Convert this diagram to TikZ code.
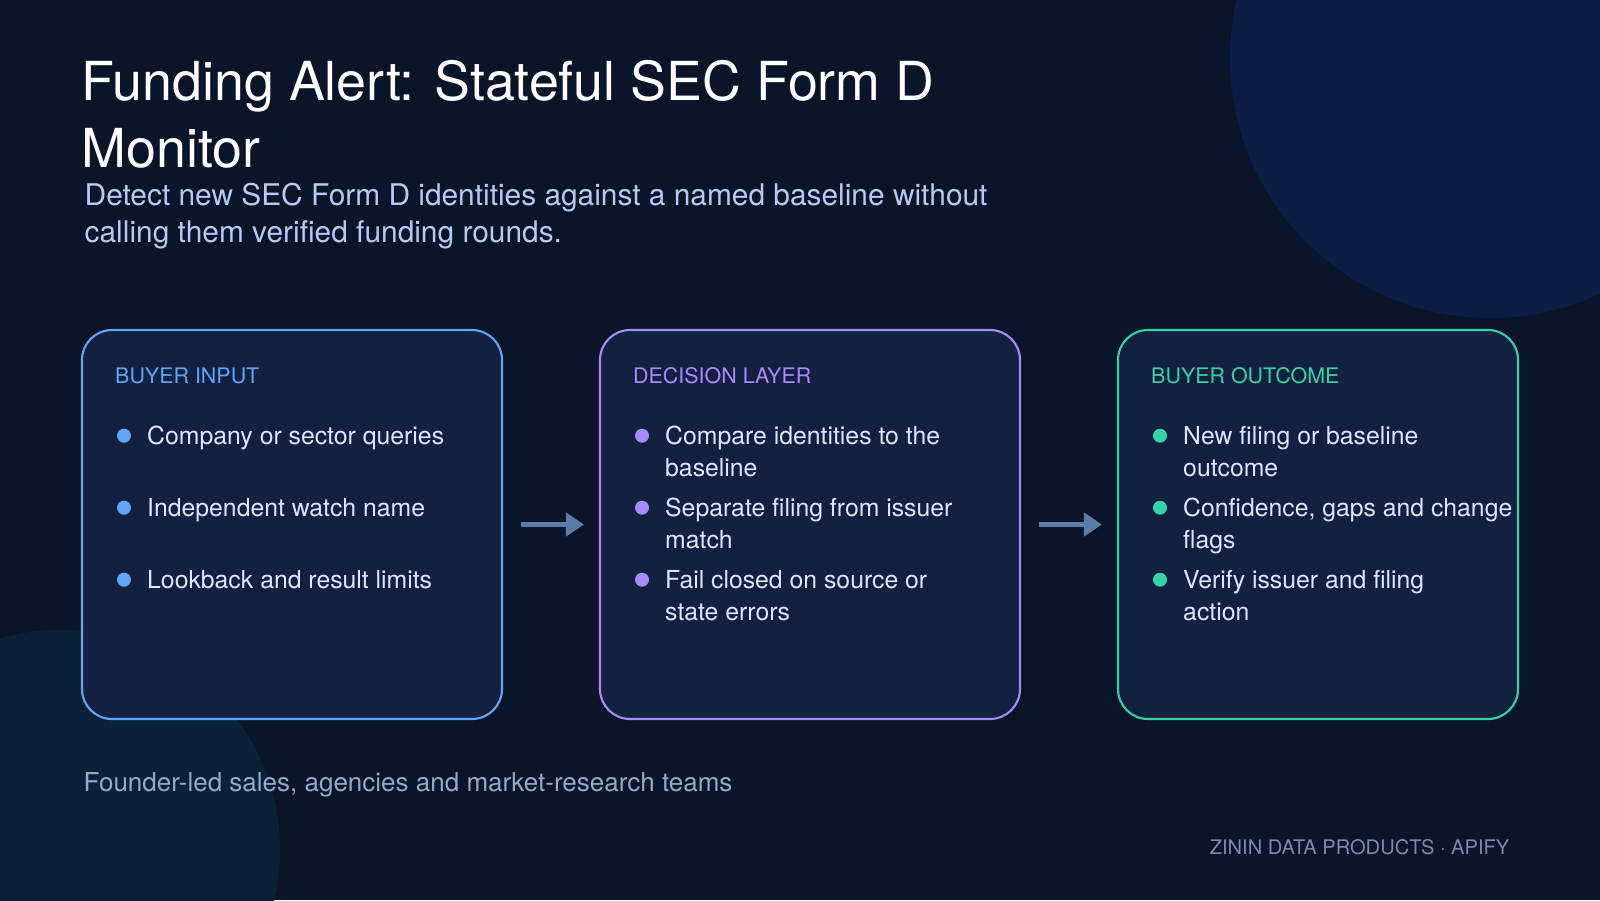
\documentclass[tikz,border=0pt]{standalone}
\usepackage{fontspec}
\setmainfont{TeX Gyre Heros}
\usetikzlibrary{arrows.meta,positioning}
\definecolor{pageBg}{HTML}{0A1529}
\definecolor{orbTop}{HTML}{0C1E45}
\definecolor{orbLow}{HTML}{0B2236}
\definecolor{cardBg}{HTML}{13203F}
\definecolor{clsIn}{HTML}{60A5FA}
\definecolor{clsDec}{HTML}{A78BFA}
\definecolor{clsOut}{HTML}{34D3A6}
\definecolor{itmTxt}{HTML}{DCE6FF}
\definecolor{subTxt}{HTML}{B9C9F0}
\definecolor{noteTxt}{HTML}{94A9CC}
\definecolor{markTxt}{HTML}{7D8BA8}
\definecolor{flowCol}{HTML}{5B7BA8}

\begin{document}
\begin{tikzpicture}[
  ttl/.style={anchor=base west, inner sep=0pt, align=left, text=white,
              font=\fontsize{15.3}{19.06}\selectfont},
  sub/.style={anchor=base west, inner sep=0pt, align=left, text=subTxt,
              font=\fontsize{8.5}{10.8}\selectfont},
  card/.style={draw=#1, fill=cardBg, line width=0.6pt, rounded corners=0.3cm,
               minimum height=3.89cm, inner sep=0pt},
  hdr/.style={anchor=base west, inner sep=0pt, text=#1,
              font=\fontsize{6.1}{7}\selectfont},
  itm/.style={anchor=base west, inner sep=0pt, align=left, text=itmTxt,
              font=\fontsize{7.05}{9.1}\selectfont},
  dot/.style={circle, fill=#1, minimum size=0.14cm, inner sep=0pt},
  flow/.style={draw=flowCol, line width=1.3pt,
               -{Triangle[length=1.8mm,width=2.3mm]},
               shorten <=0.18cm, shorten >=0.15cm},
]

% ============ page and background orbs ============
\useasboundingbox (0,0) rectangle (16,9);
\fill[pageBg] (0,0) rectangle (16,9);
\begin{scope}
  \clip (0,0) rectangle (16,9);
  \fill[orbTop] (14.90,8.42) circle (2.60);
  \fill[orbLow] (0.60,0.50) circle (2.20);
\end{scope}

% ============ heading (base = last line) ============
\node[ttl] (title) at (0.81,7.323) {Funding Alert: Stateful SEC Form D\\Monitor};
\node[sub] (lede) at (0.84,6.57)
  {Detect new SEC Form D identities against a named baseline without\\
   calling them verified funding rounds.};

% ============ the three cards ============
\node[card=clsIn,  minimum width=4.2cm] (in)  at (2.92,3.755) {};
\node[card=clsDec, minimum width=4.2cm] (dec) at (8.10,3.755) {};
\node[card=clsOut, minimum width=4.0cm] (out) at (13.18,3.755) {};

\draw[flow] (in) -- (dec);
\draw[flow] (dec) -- (out);

% (1) buyer input
\begin{scope}[xshift=0.82cm]
  \node[hdr=clsIn] (inH) at (0.325,5.17) {BUYER INPUT};
  \node[dot=clsIn] (inB1) at (0.42,4.643) {};
  \node[itm] (inT1) at (0.645,4.56) {Company or sector queries};
  \node[dot=clsIn] (inB2) at (0.42,3.923) {};
  \node[itm] (inT2) at (0.645,3.84) {Independent watch name};
  \node[dot=clsIn] (inB3) at (0.42,3.203) {};
  \node[itm] (inT3) at (0.645,3.12) {Lookback and result limits};
\end{scope}

% (2) decision layer -- two-line items sit on their second baseline
\begin{scope}[xshift=6.00cm]
  \node[hdr=clsDec] (decH) at (0.325,5.17) {DECISION LAYER};
  \node[dot=clsDec] (decB1) at (0.42,4.643) {};
  \node[itm] (decT1) at (0.645,4.24) {Compare identities to the\\baseline};
  \node[dot=clsDec] (decB2) at (0.42,3.923) {};
  \node[itm] (decT2) at (0.645,3.52) {Separate filing from issuer\\match};
  \node[dot=clsDec] (decB3) at (0.42,3.203) {};
  \node[itm] (decT3) at (0.645,2.80) {Fail closed on source or\\state errors};
\end{scope}

% (3) buyer outcome
\begin{scope}[xshift=11.18cm]
  \node[hdr=clsOut] (outH) at (0.325,5.17) {BUYER OUTCOME};
  \node[dot=clsOut] (outB1) at (0.42,4.643) {};
  \node[itm] (outT1) at (0.645,4.24) {New filing or baseline\\outcome};
  \node[dot=clsOut] (outB2) at (0.42,3.923) {};
  \node[itm] (outT2) at (0.645,3.52) {Confidence, gaps and change\\flags};
  \node[dot=clsOut] (outB3) at (0.42,3.203) {};
  \node[itm] (outT3) at (0.645,2.80) {Verify issuer and filing\\action};
\end{scope}

% ============ footer ============
\node[anchor=base west, inner sep=0pt, text=noteTxt,
      font=\fontsize{7.4}{9}\selectfont] (aud) at (0.83,1.09)
  {Founder-led sales, agencies and market-research teams};
\node[anchor=base east, inner sep=0pt, text=markTxt,
      font=\fontsize{5.72}{7}\selectfont] (brand) at (15.10,0.46)
  {ZININ DATA PRODUCTS · APIFY};

\end{tikzpicture}
\end{document}
